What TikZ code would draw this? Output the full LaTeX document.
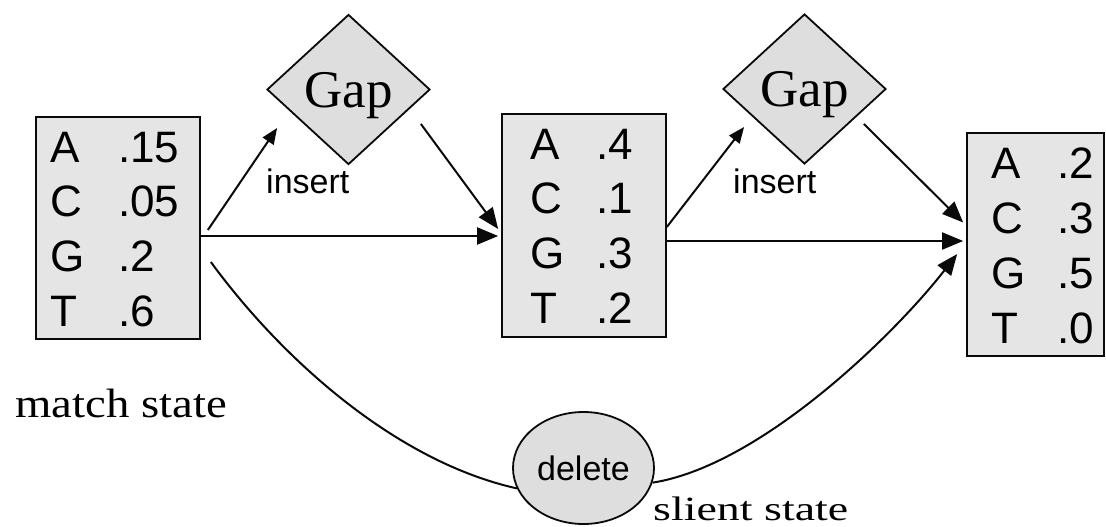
\documentclass[tikz,border=0pt]{standalone}
\usepackage{fontspec}
\setmainfont{Liberation Serif}
\setsansfont{Liberation Sans}
\usetikzlibrary{shapes.geometric,arrows.meta}

\definecolor{boxgray}{HTML}{E5E5E5}
\definecolor{shapegray}{HTML}{DEDEDE}
\definecolor{ink}{HTML}{0A0A0A}

\begin{document}
\begin{tikzpicture}[x=1pt,y=-1pt,
  state/.style={draw=ink, line width=1.7pt, fill=boxgray, rectangle, inner sep=0pt, minimum width=164pt},
  gapnode/.style={draw=ink, line width=1.8pt, fill=shapegray, diamond, inner sep=0pt,
    minimum width=163pt, minimum height=150pt, font=\fontsize{53}{53}\selectfont, text depth=0pt},
  silent/.style={draw=ink, line width=1.8pt, fill=shapegray, ellipse, inner sep=0pt,
    minimum width=141pt, minimum height=112pt, font=\sffamily\fontsize{34}{34}\selectfont},
  boxtxt/.style={font=\sffamily\fontsize{44}{44}\selectfont, inner sep=0pt, anchor=base west},
  lbl/.style={font=\sffamily\fontsize{34}{34}\selectfont, inner sep=0pt, anchor=base west},
  caption/.style={inner sep=0pt, anchor=base west},
  arr/.style={draw=ink, line width=2pt, -{Triangle[length=21pt,width=17pt]}},
  arrs/.style={draw=ink, line width=2pt, -{Triangle[length=16pt,width=13pt]}},
  link/.style={draw=ink, line width=2pt}
]
\useasboundingbox[fill=white] (0,0) rectangle (1106,527);

% emission tables of the three match states
\node[state, minimum height=222pt] (box1) at (118,228) {};
\node[state, minimum height=223pt] (box2) at (584,225.5) {};
\node[state, minimum width=137pt, minimum height=223pt] (box3) at (1035.5,244.5) {};

\foreach \L/\V [count=\i from 0] in {A/.15, C/.05, G/.2, T/.6} {
  \node[boxtxt] (m1l\i) at (50,162+54.7*\i) {\L};
  \node[boxtxt] (m1v\i) at (118,162+54.7*\i) {\V};
}
\foreach \L/\V [count=\i from 0] in {A/.4, C/.1, G/.3, T/.2} {
  \node[boxtxt] (m2l\i) at (530,159.3+54.6*\i) {\L};
  \node[boxtxt] (m2v\i) at (596,159.3+54.6*\i) {\V};
}
\foreach \L/\V [count=\i from 0] in {A/.2, C/.3, G/.5, T/.0} {
  \node[boxtxt] (m3l\i) at (991,178.3+55*\i) {\L};
  \node[boxtxt] (m3v\i) at (1057,178.3+55*\i) {\V};
}

% insert states
\node[gapnode] (gap1) at (348.5,89.5) {Gap};
\node[gapnode] (gap2) at (804.5,89) {Gap};
\node[lbl] (ins1) at (266,193) {insert};
\node[lbl] (ins2) at (733,193) {insert};

% delete (silent) state
\node[silent] (del) at (583.5,468) {delete};

% captions
\node[caption, font=\fontsize{41}{41}\selectfont] (mcap) at (15,417) {\scalebox{1.14}[1]{match state}};
\node[caption, font=\fontsize{34}{34}\selectfont] (scap) at (653,520) {\scalebox{1.35}[1]{slient state}};

% transitions
\draw[arrs] ([shift={(7,2)}]box1.east) -- ([shift={(11,38.5)}]gap1.west);
\draw[arr]  ([shift={(-10,34.5)}]gap1.east) -- ([shift={(-3,3.5)}]box2.west);
\draw[arr]  ([shift={(0,8)}]box1.east) -- ([shift={(-3,10.5)}]box2.west);
\draw[arrs] ([shift={(0,1.5)}]box2.east) -- ([shift={(22,38)}]gap2.west);
\draw[arr]  ([shift={(-23,35)}]gap2.east) -- ([shift={(-3,-22)}]box3.west);
\draw[arr]  ([shift={(0,15.5)}]box2.east) -- ([shift={(-3,-3.5)}]box3.west);

\draw[link] ([shift={(10,34)}]box1.east) .. controls +(71,97) and +(-121,-27) .. (del.197);
\draw[arr]  (del.348) .. controls +(108,-17) and +(-63,81) .. ([shift={(-9,9.5)}]box3.west);
\end{tikzpicture}
\end{document}
